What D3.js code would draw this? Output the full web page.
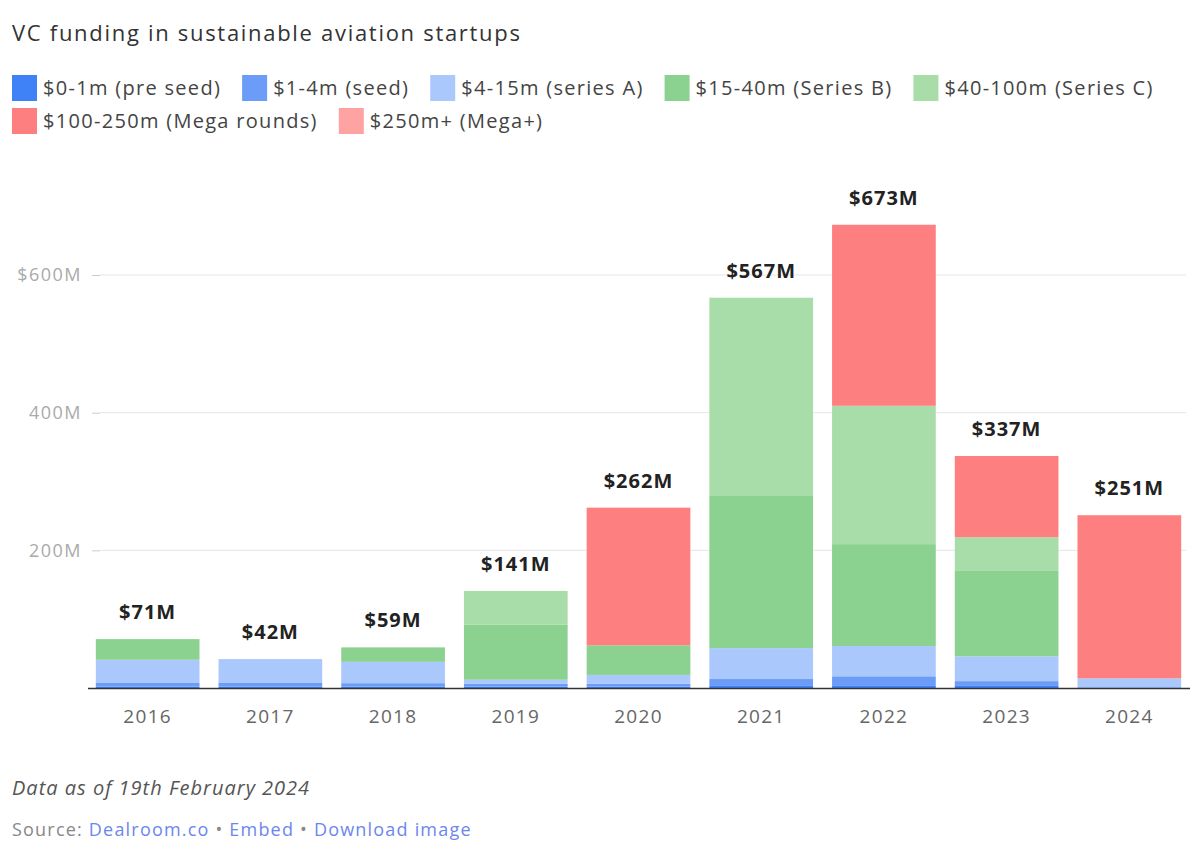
<!DOCTYPE html>
<html lang="en">
<head>
<meta charset="UTF-8">
<title>VC funding in sustainable aviation startups</title>
<style>
  body { margin: 0; background: #fff; font-family: "Open Sans", sans-serif; }
  svg text { font-family: "Open Sans", sans-serif; }
</style>
</head>
<body>
<svg id="chart" width="1200" height="851"></svg>
<script src="https://d3js.org/d3.v7.min.js"></script>
<script>
  // data (millions of USD)
  const years = ["2016", "2017", "2018", "2019", "2020", "2021", "2022", "2023", "2024"];
  const stages = ["$0-1m (pre seed)", "$1-4m (seed)", "$4-15m (series A)", "$15-40m (Series B)",
                  "$40-100m (Series C)", "$100-250m (Mega rounds)", "$250m+ (Mega+)"];
  const preSeed = [2, 2, 2, 2, 2, 3, 3, 3, 0];
  const seed    = [6, 6, 5, 4, 4, 10, 14, 7, 1];
  const seriesA = [33, 34, 31, 6, 13, 45, 44, 36, 13];
  const seriesB = [30, 0, 21, 80, 43, 222, 148, 125, 0];
  const seriesC = [0, 0, 0, 49, 0, 287, 201, 48, 0];
  const mega    = [0, 0, 0, 0, 200, 0, 263, 118, 237];
  const megaPlus = [0, 0, 0, 0, 0, 0, 0, 0, 0];
  const totals  = [71, 42, 59, 141, 262, 567, 673, 337, 251];
  const yTicks = [200, 400, 600];

  const colors = ["#3f82f8", "#6a9cf8", "#abc8fc", "#8bd18f", "#a8dca8", "#fe7f7f", "#ffa2a2"];
  const series = [preSeed, seed, seriesA, seriesB, seriesC, mega, megaPlus];

  const rows = years.map((y, i) => {
    const r = { year: y };
    stages.forEach((s, k) => r[s] = series[k][i]);
    return r;
  });

  const svg = d3.select("#chart");

  // title
  svg.append("text")
    .attr("x", 12).attr("y", 41)
    .attr("font-size", 22).attr("letter-spacing", 1.7).attr("fill", "#333")
    .text("VC funding in sustainable aviation startups");

  // legend (flow layout)
  const legend = svg.append("g");
  let lx = 12, ly = 75;
  stages.forEach((s, k) => {
    const g = legend.append("g");
    g.append("rect").attr("width", 25).attr("height", 26).attr("fill", colors[k]);
    const t = g.append("text").attr("x", 31).attr("y", 20)
      .attr("font-size", 20).attr("letter-spacing", 1.3).attr("fill", "#444").text(s);
    const w = 31 + t.node().getComputedTextLength();
    if (lx + w > 1195) { lx = 12; ly += 33; }
    g.attr("transform", "translate(" + lx + "," + ly + ")");
    lx += w + 21;
  });

  // scales
  const x = d3.scaleBand().domain(years).range([86, 1191]).paddingInner(0.155).paddingOuter(0.08);
  const y = d3.scaleLinear().domain([0, 600]).range([688, 275]);

  // grid + y axis
  const yAxis = d3.axisLeft(y).tickValues(yTicks)
    .tickSize(8).tickPadding(10)
    .tickFormat(d => d === 600 ? "$" + d + "M" : d + "M");
  const ya = svg.append("g").attr("transform", "translate(100,0)").call(yAxis);
  ya.select(".domain").remove();
  ya.selectAll(".tick line").attr("stroke", "#ccc");
  ya.selectAll(".tick text").attr("font-size", 18).attr("letter-spacing", 1.5).attr("fill", "#aaa")
    .attr("font-family", "'Open Sans', sans-serif");

  svg.append("g").selectAll("line").data(yTicks).enter().append("line")
    .attr("x1", 100).attr("x2", 1186)
    .attr("y1", d => y(d)).attr("y2", d => y(d))
    .attr("stroke", "#e6e6e6");

  // stacked bars
  const stacked = d3.stack().keys(stages)(rows);
  svg.append("g").selectAll("g")
    .data(stacked).enter().append("g")
    .attr("fill", (d, k) => colors[k])
    .selectAll("rect")
    .data(d => d).enter().append("rect")
    .attr("x", d => x(d.data.year))
    .attr("y", d => y(d[1]))
    .attr("width", x.bandwidth())
    .attr("height", d => y(d[0]) - y(d[1]));

  // baseline
  svg.append("line")
    .attr("x1", 88).attr("x2", 1190)
    .attr("y1", y(0) + 0.5).attr("y2", y(0) + 0.5)
    .attr("stroke", "#333").attr("stroke-width", 1.5);

  // x axis labels
  const xAxis = d3.axisBottom(x).tickSize(0).tickPadding(22);
  const xa = svg.append("g").attr("transform", "translate(0," + y(0) + ")").call(xAxis);
  xa.select(".domain").remove();
  xa.selectAll(".tick text").attr("font-size", 19).attr("letter-spacing", 1.3).attr("fill", "#666")
    .attr("font-family", "'Open Sans', sans-serif");

  // totals
  svg.append("g").selectAll("text")
    .data(years).enter().append("text")
    .attr("x", d => x(d) + x.bandwidth() / 2)
    .attr("y", (d, i) => y(totals[i]) - 20)
    .attr("text-anchor", "middle")
    .attr("font-size", 20).attr("letter-spacing", 1).attr("font-weight", "bold").attr("fill", "#222")
    .text((d, i) => "$" + totals[i] + "M");

  // footer
  svg.append("text")
    .attr("x", 12).attr("y", 795)
    .attr("font-size", 20).attr("letter-spacing", 1).attr("font-style", "italic").attr("fill", "#555")
    .text("Data as of 19th February 2024");

  const src = svg.append("text").attr("x", 12).attr("y", 836)
    .attr("font-size", 18).attr("letter-spacing", 1.2);
  src.append("tspan").attr("fill", "#888").text("Source: ");
  src.append("tspan").attr("fill", "#6b87ee").text("Dealroom.co");
  src.append("tspan").attr("fill", "#888").text(" • ");
  src.append("tspan").attr("fill", "#6b87ee").text("Embed");
  src.append("tspan").attr("fill", "#888").text(" • ");
  src.append("tspan").attr("fill", "#6b87ee").text("Download image");
</script>
</body>
</html>
